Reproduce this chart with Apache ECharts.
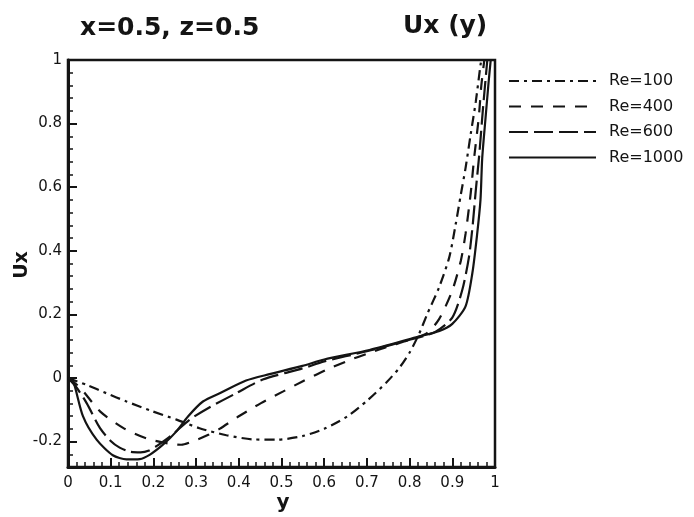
<!DOCTYPE html>
<html>
<head>
<meta charset="utf-8">
<script src="https://cdn.jsdelivr.net/npm/echarts@6/dist/echarts.min.js"></script>
<style>
  html, body { margin: 0; padding: 0; background: #fff; }
  #chart { width: 694px; height: 517px; }
</style>
</head>
<body>
<div id="chart"></div>
<script>
// Ux velocity profiles along y at x=0.5, z=0.5 for four Reynolds numbers
const seriesNames = ['Re=100', 'Re=400', 'Re=600', 'Re=1000'];

const yRe100 = [0, 0.044, 0.09, 0.137, 0.192, 0.254, 0.308, 0.371, 0.432, 0.49, 0.549, 0.6, 0.655, 0.7, 0.745, 0.776, 0.8, 0.822, 0.841, 0.869, 0.893, 0.908, 0.92, 0.931, 0.943, 0.955, 0.966, 0.968];
const uRe100 = [0, -0.022, -0.048, -0.074, -0.102, -0.131, -0.158, -0.18, -0.193, -0.194, -0.183, -0.16, -0.12, -0.072, -0.015, 0.032, 0.08, 0.138, 0.2, 0.285, 0.38, 0.484, 0.577, 0.66, 0.766, 0.869, 0.984, 1.0];

const yRe400 = [0, 0.028, 0.075, 0.129, 0.184, 0.238, 0.265, 0.293, 0.33, 0.355, 0.402, 0.452, 0.503, 0.549, 0.604, 0.659, 0.7, 0.745, 0.8, 0.84, 0.869, 0.9, 0.92, 0.931, 0.943, 0.951, 0.962, 0.968, 0.975];
const uRe400 = [0, -0.03, -0.105, -0.157, -0.19, -0.207, -0.21, -0.199, -0.178, -0.16, -0.119, -0.079, -0.043, -0.011, 0.025, 0.056, 0.076, 0.097, 0.12, 0.14, 0.185, 0.275, 0.369, 0.453, 0.58, 0.69, 0.82, 0.92, 1.0];

const yRe600 = [0, 0.02, 0.044, 0.075, 0.1, 0.121, 0.145, 0.17, 0.19, 0.21, 0.24, 0.285, 0.332, 0.394, 0.456, 0.549, 0.6, 0.7, 0.8, 0.86, 0.9, 0.923, 0.939, 0.948, 0.955, 0.963, 0.972, 0.982];
const uRe600 = [0, -0.03, -0.08, -0.158, -0.198, -0.219, -0.232, -0.234, -0.228, -0.212, -0.183, -0.131, -0.092, -0.048, -0.005, 0.03, 0.052, 0.084, 0.12, 0.145, 0.19, 0.275, 0.38, 0.484, 0.59, 0.7, 0.85, 1.0];

const yRe1000 = [0, 0.012, 0.035, 0.067, 0.105, 0.137, 0.168, 0.192, 0.223, 0.254, 0.281, 0.316, 0.36, 0.417, 0.472, 0.549, 0.6, 0.706, 0.815, 0.87, 0.9, 0.931, 0.947, 0.958, 0.966, 0.97, 0.978, 0.985, 0.99];
const uRe1000 = [0, -0.01, -0.12, -0.194, -0.243, -0.256, -0.255, -0.241, -0.209, -0.168, -0.121, -0.074, -0.045, -0.008, 0.012, 0.038, 0.058, 0.088, 0.128, 0.148, 0.17, 0.225, 0.33, 0.45, 0.56, 0.69, 0.82, 0.93, 1.0];

const xTickLabels = ['0', '0.1', '0.2', '0.3', '0.4', '0.5', '0.6', '0.7', '0.8', '0.9', '1'];

const dashStyles = [[10, 5, 3, 5], [12, 10], [19, 6], 'solid'];

function pairs(xs, ys) {
  return xs.map((x, i) => [x, ys[i]]);
}

const profiles = [
  pairs(yRe100, uRe100),
  pairs(yRe400, uRe400),
  pairs(yRe600, uRe600),
  pairs(yRe1000, uRe1000)
];

const ink = '#141414';
const font = 'DejaVu Sans';
const gridRect = { left: 68, top: 60, width: 427, height: 407 };

const chart = echarts.init(document.getElementById('chart'), null, { renderer: 'canvas' });

chart.setOption({
  backgroundColor: '#ffffff',
  animation: false,
  grid: [
    Object.assign({ show: true, borderColor: ink, borderWidth: 2.5, backgroundColor: 'transparent' }, gridRect),
    Object.assign({ show: false }, gridRect)
  ],
  xAxis: [
    {
      gridIndex: 0, type: 'value', min: 0, max: 1, interval: 0.1,
      axisLine: { show: true, onZero: false, lineStyle: { color: ink, width: 3 } },
      axisTick: { show: true, inside: true, length: 9, lineStyle: { color: ink, width: 2 } },
      minorTick: { show: true, splitNumber: 5, length: 5, lineStyle: { color: ink, width: 1.5 } },
      splitLine: { show: false },
      axisLabel: {
        margin: 9, color: ink, fontFamily: font, fontSize: 15,
        formatter: (v) => xTickLabels[Math.round(v * 10)]
      }
    },
    { gridIndex: 1, type: 'value', min: 0, max: 1, show: false }
  ],
  yAxis: [
    {
      gridIndex: 0, type: 'value', min: -0.28, max: 1, minInterval: 0.2, maxInterval: 0.2,
      axisLine: { show: true, onZero: false, lineStyle: { color: ink, width: 3 } },
      axisTick: { show: true, inside: true, length: 9, lineStyle: { color: ink, width: 2 } },
      splitLine: { show: false },
      axisLabel: {
        margin: 6, color: ink, fontFamily: font, fontSize: 15, showMinLabel: false,
        formatter: (v) => (Math.abs(v) < 1e-9 ? '0' : String(Math.round(v * 10) / 10))
      }
    },
    {
      gridIndex: 1, type: 'value', min: -0.28, max: 1, interval: 0.04, position: 'left',
      axisLine: { show: false, onZero: false },
      axisTick: { show: true, inside: true, length: 5, lineStyle: { color: ink, width: 1.5 } },
      axisLabel: { show: false },
      splitLine: { show: false }
    }
  ],
  legend: {
    orient: 'vertical',
    left: 503,
    top: 68,
    itemWidth: 87,
    itemHeight: 14,
    itemGap: 9.5,
    data: seriesNames,
    itemStyle: { color: 'transparent', borderColor: 'transparent', borderWidth: 0 },
    textStyle: { color: ink, fontFamily: font, fontSize: 16, padding: [0, 0, 0, 8] }
  },
  graphic: [
    { type: 'text', left: 80, top: 16, style: { text: 'x=0.5, z=0.5', fill: ink, font: 'bold 25px "DejaVu Sans"' } },
    { type: 'text', left: 403, top: 14, style: { text: 'Ux (y)', fill: ink, font: 'bold 25px "DejaVu Sans"' } },
    { type: 'text', x: 22, y: 265, rotation: Math.PI / 2, style: { text: 'Ux', fill: ink, font: 'bold 19px "DejaVu Sans"', textAlign: 'center', textVerticalAlign: 'middle' } },
    { type: 'text', x: 283, y: 503, style: { text: 'y', fill: ink, font: 'bold 20px "DejaVu Sans"', textAlign: 'center', textVerticalAlign: 'middle' } }
  ],
  series: seriesNames.map((name, i) => ({
    name: name,
    type: 'line',
    xAxisIndex: 0,
    yAxisIndex: 0,
    data: profiles[i],
    symbol: 'none',
    smooth: 0.25,
    clip: true,
    lineStyle: { color: ink, width: 2.2, type: dashStyles[i] },
    itemStyle: { color: ink }
  }))
});
</script>
</body>
</html>
